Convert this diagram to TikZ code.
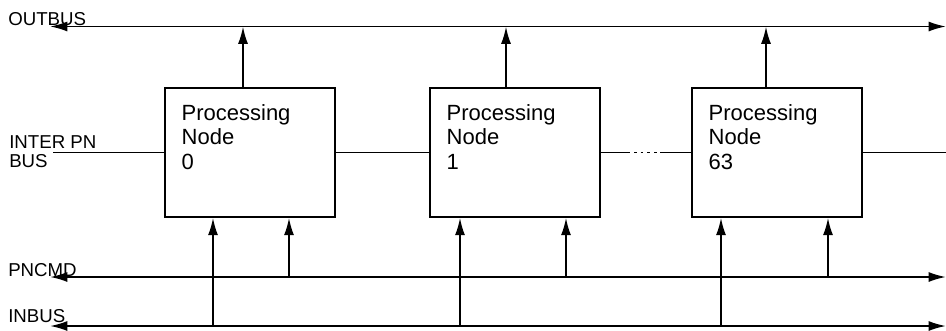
\documentclass[tikz,border=0pt]{standalone}
\usepackage{fontspec}
\setmainfont{Liberation Sans}
\usetikzlibrary{arrows.meta,positioning}

\begin{document}
\begin{tikzpicture}[
    x=0.75pt, y=-0.75pt,
    pnbox/.style={
        draw,
        line width=1.4pt,
        minimum width=127.5pt,
        minimum height=96.5pt,
        inner sep=0pt
    },
    pntext/.style={
        anchor=north west,
        align=left,
        inner sep=0pt,
        xshift=13pt,
        yshift=-12.5pt,
        font=\fontsize{16.5}{18.4}\selectfont
    },
    buslab/.style={
        anchor=base west,
        inner sep=0pt,
        font=\fontsize{14}{14.3}\selectfont
    },
    bus/.style={{Latex[length=13pt,width=7.5pt]}-{Latex[length=13pt,width=7.5pt]},line width=1.4pt},
    arr/.style={-{Latex[length=13pt,width=7.5pt]},line width=1.4pt},
    wire/.style={line width=1.4pt}
]
\useasboundingbox (0,0) rectangle (946,330);

% ---------------------------------------------------------
% Processing nodes
% ---------------------------------------------------------

\node[pnbox] (pn0) at (250,152.5) {};
\node[pntext] (pn0txt) at (pn0.north west) {Processing\\Node\\0};

\node[pnbox] (pn1) at (515,152.5) {};
\node[pntext] (pn1txt) at (pn1.north west) {Processing\\Node\\1};

\node[pnbox] (pn2) at (777,152.5) {};
\node[pntext] (pn2txt) at (pn2.north west) {Processing\\Node\\63};

% ---------------------------------------------------------
% Bus labels and end points
% ---------------------------------------------------------

\node[buslab] (outlab) at (8,25) {OUTBUS};
\node[buslab,align=left,anchor=north west] (interlab) at (9,135) {INTER PN\\BUS};
\node[buslab] (cmdlab) at (8,276) {PNCMD};
\node[buslab] (inlab) at (8,322) {INBUS};

\coordinate (outL) at (50,26.5);
\coordinate (outR) at (946,26.5);
\coordinate (cmdL) at (50,277);
\coordinate (cmdR) at (946,277);
\coordinate (inL) at (50,326);
\coordinate (inR) at (946,326);

\coordinate (interL) at (53,152.5);
\coordinate (interR) at (946,152.5);
\coordinate (gapL) at (630,152.5);
\coordinate (gapR) at (660,152.5);

\coordinate (pn0out) at (243,26.5);
\coordinate (pn1out) at (506,26.5);
\coordinate (pn2out) at (766,26.5);
\coordinate (pn0in) at (213,326);
\coordinate (pn1in) at (460,326);
\coordinate (pn2in) at (721,326);
\coordinate (pn0cmd) at (289,277);
\coordinate (pn1cmd) at (566,277);
\coordinate (pn2cmd) at (828,277);

% ---------------------------------------------------------
% Buses
% ---------------------------------------------------------

\draw[bus] (outL) -- (outR);
\draw[bus] (cmdL) -- (cmdR);
\draw[bus] (inL) -- (inR);

\draw[wire] (interL) -- (pn0.west);
\draw[wire] (pn0.east) -- (pn1.west);
\draw[wire] (pn1.east) -- (gapL);
\draw[wire,dash pattern=on 2pt off 3pt,dash phase=2pt] (gapL) -- (gapR);
\draw[wire] (gapR) -- (pn2.west);
\draw[wire] (pn2.east) -- (interR);

% ---------------------------------------------------------
% Node connections
% ---------------------------------------------------------

\draw[arr] (pn0.north -| pn0out) -- (pn0out);
\draw[arr] (pn1.north -| pn1out) -- (pn1out);
\draw[arr] (pn2.north -| pn2out) -- (pn2out);

\draw[arr] (pn0in) -- (pn0.south -| pn0in);
\draw[arr] (pn0cmd) -- (pn0.south -| pn0cmd);
\draw[arr] (pn1in) -- (pn1.south -| pn1in);
\draw[arr] (pn1cmd) -- (pn1.south -| pn1cmd);
\draw[arr] (pn2in) -- (pn2.south -| pn2in);
\draw[arr] (pn2cmd) -- (pn2.south -| pn2cmd);

\end{tikzpicture}
\end{document}
